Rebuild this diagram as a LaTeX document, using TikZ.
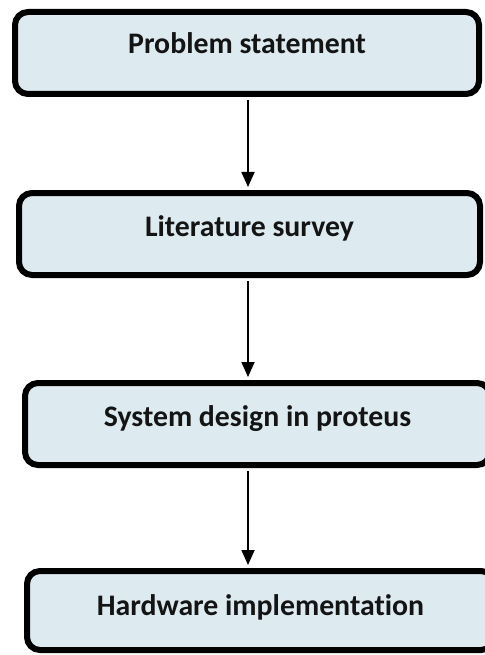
\documentclass[tikz,border=0pt]{standalone}
\usepackage{fontspec}
\setmainfont[Ligatures={NoCommon}]{Carlito}
\usetikzlibrary{arrows.meta}
\definecolor{boxfill}{RGB}{221,235,241}
\definecolor{ink}{RGB}{20,20,20}
\tikzset{
  stepbox/.style={draw=black, line width=6pt, rounded corners=13pt, fill=boxfill, inner sep=0pt},
  lbl/.style={anchor=base, inner sep=0pt, text=ink, font=\fontsize{29.8}{32}\selectfont\bfseries},
  arr/.style={line width=1.8pt, -{Triangle[width=13pt,length=15pt]}, shorten >=3pt, shorten <=3pt}
}
\begin{document}
\begin{tikzpicture}[x=1pt,y=-1pt]
\useasboundingbox (0,0) rectangle (484,655);
\node[stepbox, minimum width=464pt, minimum height=82pt] (b1) at (247,53) {};
\node[stepbox, minimum width=461pt, minimum height=82pt] (b2) at (249.5,234) {};
\node[stepbox, minimum width=465pt, minimum height=82pt] (b3) at (257.5,424) {};
\node[stepbox, minimum width=467pt, minimum height=79pt] (b4) at (260.5,610.5) {};
\node[lbl] (t1) at ([yshift=-45pt]b1.north) {Problem statement};
\node[lbl] (t2) at ([yshift=-46pt]b2.north) {Literature survey};
\node[lbl] (t3) at ([yshift=-46pt]b3.north) {System design in proteus};
\node[lbl] (t4) at ([yshift=-47pt]b4.north) {Hardware implementation};
\coordinate (ax) at (248,0);
\draw[arr] (b1.south -| ax) -- (b2.north -| ax);
\draw[arr] (b2.south -| ax) -- (b3.north -| ax);
\draw[arr] (b3.south -| ax) -- (b4.north -| ax);
\end{tikzpicture}
\end{document}
